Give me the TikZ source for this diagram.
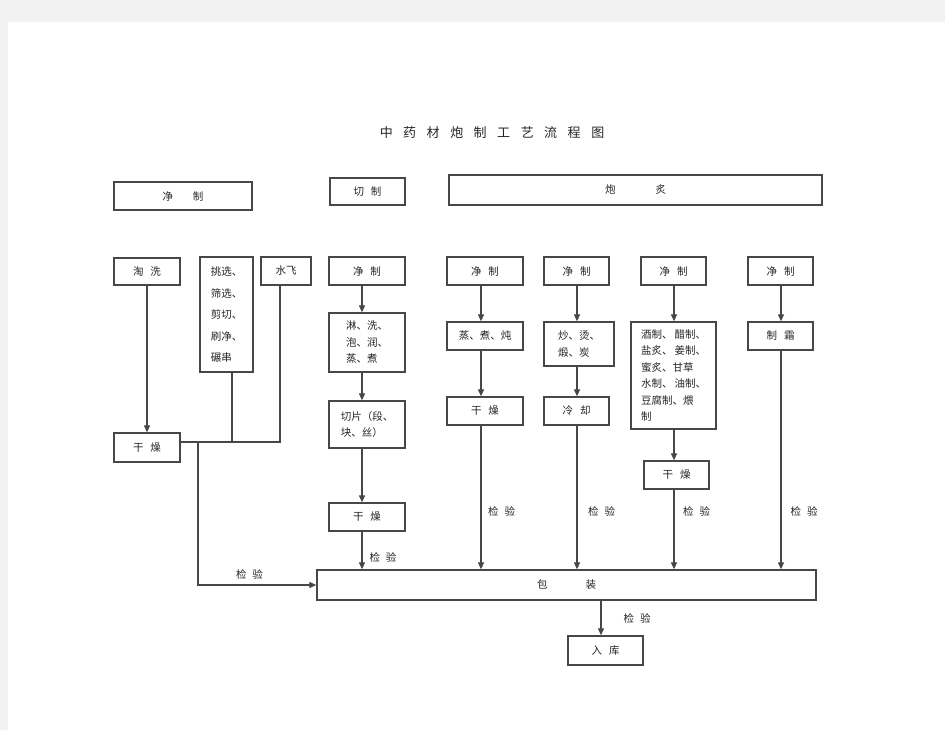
\documentclass[tikz,border=0pt]{standalone}
\usepackage{fontspec}
\setmainfont{Noto Sans CJK SC}
\usetikzlibrary{arrows.meta,calc}
\newcommand\gapx[1]{\hspace{#1pt}}
\begin{document}
\begin{tikzpicture}[x=1pt,y=-1pt,
  box/.style={draw=black!72, line width=1.3pt, fill=white, inner sep=0pt,
    font=\fontsize{10.5}{16.5}\selectfont, text=black!85},
  ln/.style={draw=black!72, line width=1.2pt},
  arr/.style={ln, -{Triangle[length=7pt,width=6pt]}},
  lab/.style={font=\fontsize{10.5}{12}\selectfont, text=black!85, inner sep=0pt}]
\fill[black!5] (0,0) rectangle (945,730);
\fill[white] (8,22) rectangle (945,730);
\useasboundingbox (0,0) rectangle (945,730);

% title
\node[font=\fontsize{13}{15}\selectfont, text=black!85, inner sep=0pt] (title) at (492,133)
  {中\gapx{10.5}药\gapx{10.5}材\gapx{10.5}炮\gapx{10.5}制\gapx{10.5}工\gapx{10.5}艺\gapx{10.5}流\gapx{10.5}程\gapx{10.5}图};

% top headers
\node[box, minimum width=138, minimum height=28] (h1) at (183,196) {净\gapx{20}制};
\node[box, minimum width=75, minimum height=27] (h2) at (367.5,191.5) {切\gapx{7}制};
\node[box, minimum width=373, minimum height=30] (h3) at (635.5,190) {炮\gapx{40}炙};

% row 2
\node[box, minimum width=66, minimum height=27] (taoxi) at (147,271.5) {淘\gapx{7}洗};
\node[box, minimum width=53, minimum height=115, align=left,
  font=\fontsize{10.5}{21.5}\selectfont] (tiaoxuan) at (226.5,314.5)
  {\rule{0pt}{9pt}挑选、\\筛选、\\剪切、\\刷净、\\碾串};
\node[box, minimum width=50, minimum height=28] (shuifei) at (286,271) {水飞};
\node[box, minimum width=76, minimum height=28] (c3a) at (367,271) {净\gapx{7}制};
\node[box, minimum width=76, minimum height=28] (c4a) at (485,271) {净\gapx{7}制};
\node[box, minimum width=65, minimum height=28] (c5a) at (576.5,271) {净\gapx{7}制};
\node[box, minimum width=65, minimum height=28] (c6a) at (673.5,271) {净\gapx{7}制};
\node[box, minimum width=65, minimum height=28] (c7a) at (780.5,271) {净\gapx{7}制};

% row 3
\node[box, minimum width=76, minimum height=59, align=left] (c3b) at (367,342.5)
  {淋、洗、\\泡、润、\\蒸、煮};
\node[box, minimum width=76, minimum height=28] (c4b) at (485,336) {蒸、煮、炖};
\node[box, minimum width=70, minimum height=44, align=left] (c5b) at (579,344)
  {炒、烫、\\煅、炭};
\node[box, minimum width=85, minimum height=107, align=left] (c6b) at (673.5,375.5)
  {酒制、\gapx{2}醋制、\\盐炙、\gapx{2}姜制、\\蜜炙、甘草\\水制、\gapx{2}油制、\\豆腐制、煨\\制};
\node[box, minimum width=65, minimum height=28] (c7b) at (780.5,336) {制\gapx{7}霜};

% row 4
\node[box, minimum width=66, minimum height=29] (ganL) at (147,447.5) {干\gapx{7}燥};
\node[box, minimum width=76, minimum height=47, align=left] (c3c) at (367,424.5)
  {切片（段、\\块、丝）};
\node[box, minimum width=76, minimum height=28] (c4c) at (485,411) {干\gapx{7}燥};
\node[box, minimum width=65, minimum height=28] (c5c) at (576.5,411) {冷\gapx{7}却};
\node[box, minimum width=65, minimum height=28] (c6c) at (676.5,475) {干\gapx{7}燥};
\node[box, minimum width=76, minimum height=28] (c3d) at (367,517) {干\gapx{7}燥};

% packaging and storage
\node[box, minimum width=499, minimum height=30] (bz) at (566.5,585) {包\gapx{38}装};
\node[box, minimum width=75, minimum height=29] (ruku) at (605.5,650.5) {入\gapx{7}库};

% arrow x positions
\coordinate (ax3) at (362,0);
\coordinate (ax4) at (481,0);
\coordinate (ax5) at (577,0);
\coordinate (ax6) at (674,0);
\coordinate (ax7) at (781,0);
\coordinate (axb) at (601,0);

% left part
\draw[arr] (taoxi.south) -- (ganL.north);
\coordinate (j1) at (232,442);
\coordinate (j2) at (280,442);
\coordinate (j3) at (198,442);
\draw[ln] (ganL.east |- j1) -- (j2) -- (shuifei.south -| j2);
\draw[ln] (tiaoxuan.south -| j1) -- (j1);
\draw[arr] (j3) |- (bz.west);
\node[lab] (l0) at (249.5,574) {检\gapx{6}验};

% column 3
\draw[arr] (c3a.south -| ax3) -- (c3b.north -| ax3);
\draw[arr] (c3b.south -| ax3) -- (c3c.north -| ax3);
\draw[arr] (c3c.south -| ax3) -- (c3d.north -| ax3);
\draw[arr] (c3d.south -| ax3) -- (bz.north -| ax3);
\node[lab] (l3) at (383,557) {检\gapx{6}验};

% column 4
\draw[arr] (c4a.south -| ax4) -- (c4b.north -| ax4);
\draw[arr] (c4b.south -| ax4) -- (c4c.north -| ax4);
\draw[arr] (c4c.south -| ax4) -- (bz.north -| ax4);
\node[lab] (l4) at (501.5,511) {检\gapx{6}验};

% column 5
\draw[arr] (c5a.south -| ax5) -- (c5b.north -| ax5);
\draw[arr] (c5b.south -| ax5) -- (c5c.north -| ax5);
\draw[arr] (c5c.south -| ax5) -- (bz.north -| ax5);
\node[lab] (l5) at (601.5,511) {检\gapx{6}验};

% column 6
\draw[arr] (c6a.south -| ax6) -- (c6b.north -| ax6);
\draw[arr] (c6b.south -| ax6) -- (c6c.north -| ax6);
\draw[arr] (c6c.south -| ax6) -- (bz.north -| ax6);
\node[lab] (l6) at (696.5,511) {检\gapx{6}验};

% column 7
\draw[arr] (c7a.south -| ax7) -- (c7b.north -| ax7);
\draw[arr] (c7b.south -| ax7) -- (bz.north -| ax7);
\node[lab] (l7) at (804,511) {检\gapx{6}验};

% bottom
\draw[arr] (bz.south -| axb) -- (ruku.north -| axb);
\node[lab] (lb) at (637,618) {检\gapx{6}验};
\end{tikzpicture}
\end{document}
